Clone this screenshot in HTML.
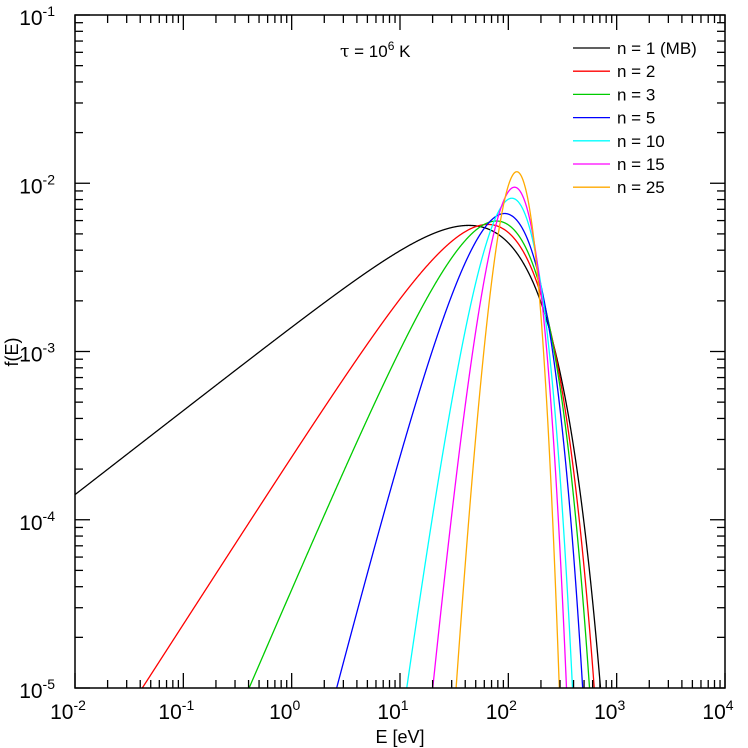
<!DOCTYPE html>
<html><head><meta charset="utf-8"><style>
html,body{margin:0;background:#fff;overflow:hidden;width:748px;height:748px}
svg{display:block;font-family:"Liberation Sans",sans-serif}
</style></head><body>
<svg id="s" width="748" height="748" viewBox="0 0 748 748">
<defs><clipPath id="c"><rect x="75" y="15" width="650" height="673"/></clipPath></defs>
<g id="curves" clip-path="url(#c)" fill="none" stroke-width="1.3"></g>
<rect x="75" y="15" width="650" height="673" fill="none" stroke="#000" stroke-width="1.5"/>
<g id="ticks" stroke="#000" stroke-width="1.3"></g>
<g id="labels" font-size="21"></g>
<text x="400" y="743" font-size="18" text-anchor="middle">E [eV]</text>
<text transform="translate(18,352) rotate(-90)" font-size="18" text-anchor="middle">f(E)</text>
<text x="340" y="57" font-size="17"><tspan font-family="DejaVu Serif,serif">τ</tspan> = 10<tspan dy="-7" font-size="12">6</tspan><tspan dy="7"> K</tspan></text>
<g id="leg" font-size="17"></g>
</svg>
<script>
const X0=75,X1=725,Y0=688,Y1=15;
const xp=e=>X0+(Math.log10(e)+2)/6*(X1-X0);
const yp=f=>Y0-(Math.log10(f)+5)/4*(Y0-Y1);
const ns="http://www.w3.org/2000/svg";
function el(p,t,a,txt){const e=document.createElementNS(ns,t);for(const k in a)e.setAttribute(k,a[k]);if(txt!=null)e.textContent=txt;p.appendChild(e);return e;}
function lgamma(z){const g=7,c=[0.99999999999980993,676.5203681218851,-1259.1392167224028,771.32342877765313,-176.61502916214059,12.507343278686905,-0.13857109526572012,9.9843695780195716e-6,1.5056327351493116e-7];z-=1;let x=c[0];for(let i=1;i<9;i++)x+=c[i]/(z+i);const t=z+g+0.5;return 0.5*Math.log(2*Math.PI)+(z+0.5)*Math.log(t)-t+Math.log(x);}
const kt=86.1733;
const ser=[[1,"#000","n = 1 (MB)"],[2,"#f00","n = 2"],[3,"#0c0","n = 3"],[5,"#00f","n = 5"],[10,"#0ff","n = 10"],[15,"#f0f","n = 15"],[25,"#fa0","n = 25"]];
const cg=document.getElementById("curves"),lg=document.getElementById("leg");
ser.forEach((s,i)=>{const n=s[0],T=3*kt/(n+2),a=n/2;let d="";
for(let k=0;k<=3000;k++){const lx=-2+6*k/3000,E=Math.pow(10,lx);
const lf=a*Math.log(E)-E/T-lgamma(a+1)-(a+1)*Math.log(T);let f=Math.exp(lf);if(f<1e-7)f=1e-7;
d+=(k?"L":"M")+xp(E).toFixed(2)+","+yp(f).toFixed(2);}
el(cg,"path",{d:d,stroke:s[1]});
const y=48+i*23.2;el(lg,"line",{x1:573,x2:610,y1:y,y2:y,stroke:s[1],"stroke-width":1.3});
el(lg,"text",{x:617,y:y+6},s[2]);});
const tg=document.getElementById("ticks"),lb=document.getElementById("labels");
for(let d=-2;d<=4;d++){for(let m=1;m<10;m++){if(d==4&&m>1)break;const x=xp(Math.pow(10,d)*m),L=m==1?15:8;
el(tg,"line",{x1:x,x2:x,y1:Y0,y2:Y0-L});el(tg,"line",{x1:x,x2:x,y1:Y1,y2:Y1+L});}
const t=el(lb,"text",{x:xp(Math.pow(10,d))-7,y:719,"text-anchor":"middle"},"10");el(t,"tspan",{dy:-9,"font-size":14},String(d));}
for(let d=-5;d<=-1;d++){for(let m=1;m<10;m++){if(d==-1&&m>1)break;const y=yp(Math.pow(10,d)*m),L=m==1?15:8;
el(tg,"line",{x1:X0,x2:X0+L,y1:y,y2:y});el(tg,"line",{x1:X1,x2:X1-L,y1:y,y2:y});}
const t=el(lb,"text",{x:55,y:yp(Math.pow(10,d))+10,"text-anchor":"end"},"10");el(t,"tspan",{dy:-9,"font-size":14},String(d));}
</script>
</body></html>
